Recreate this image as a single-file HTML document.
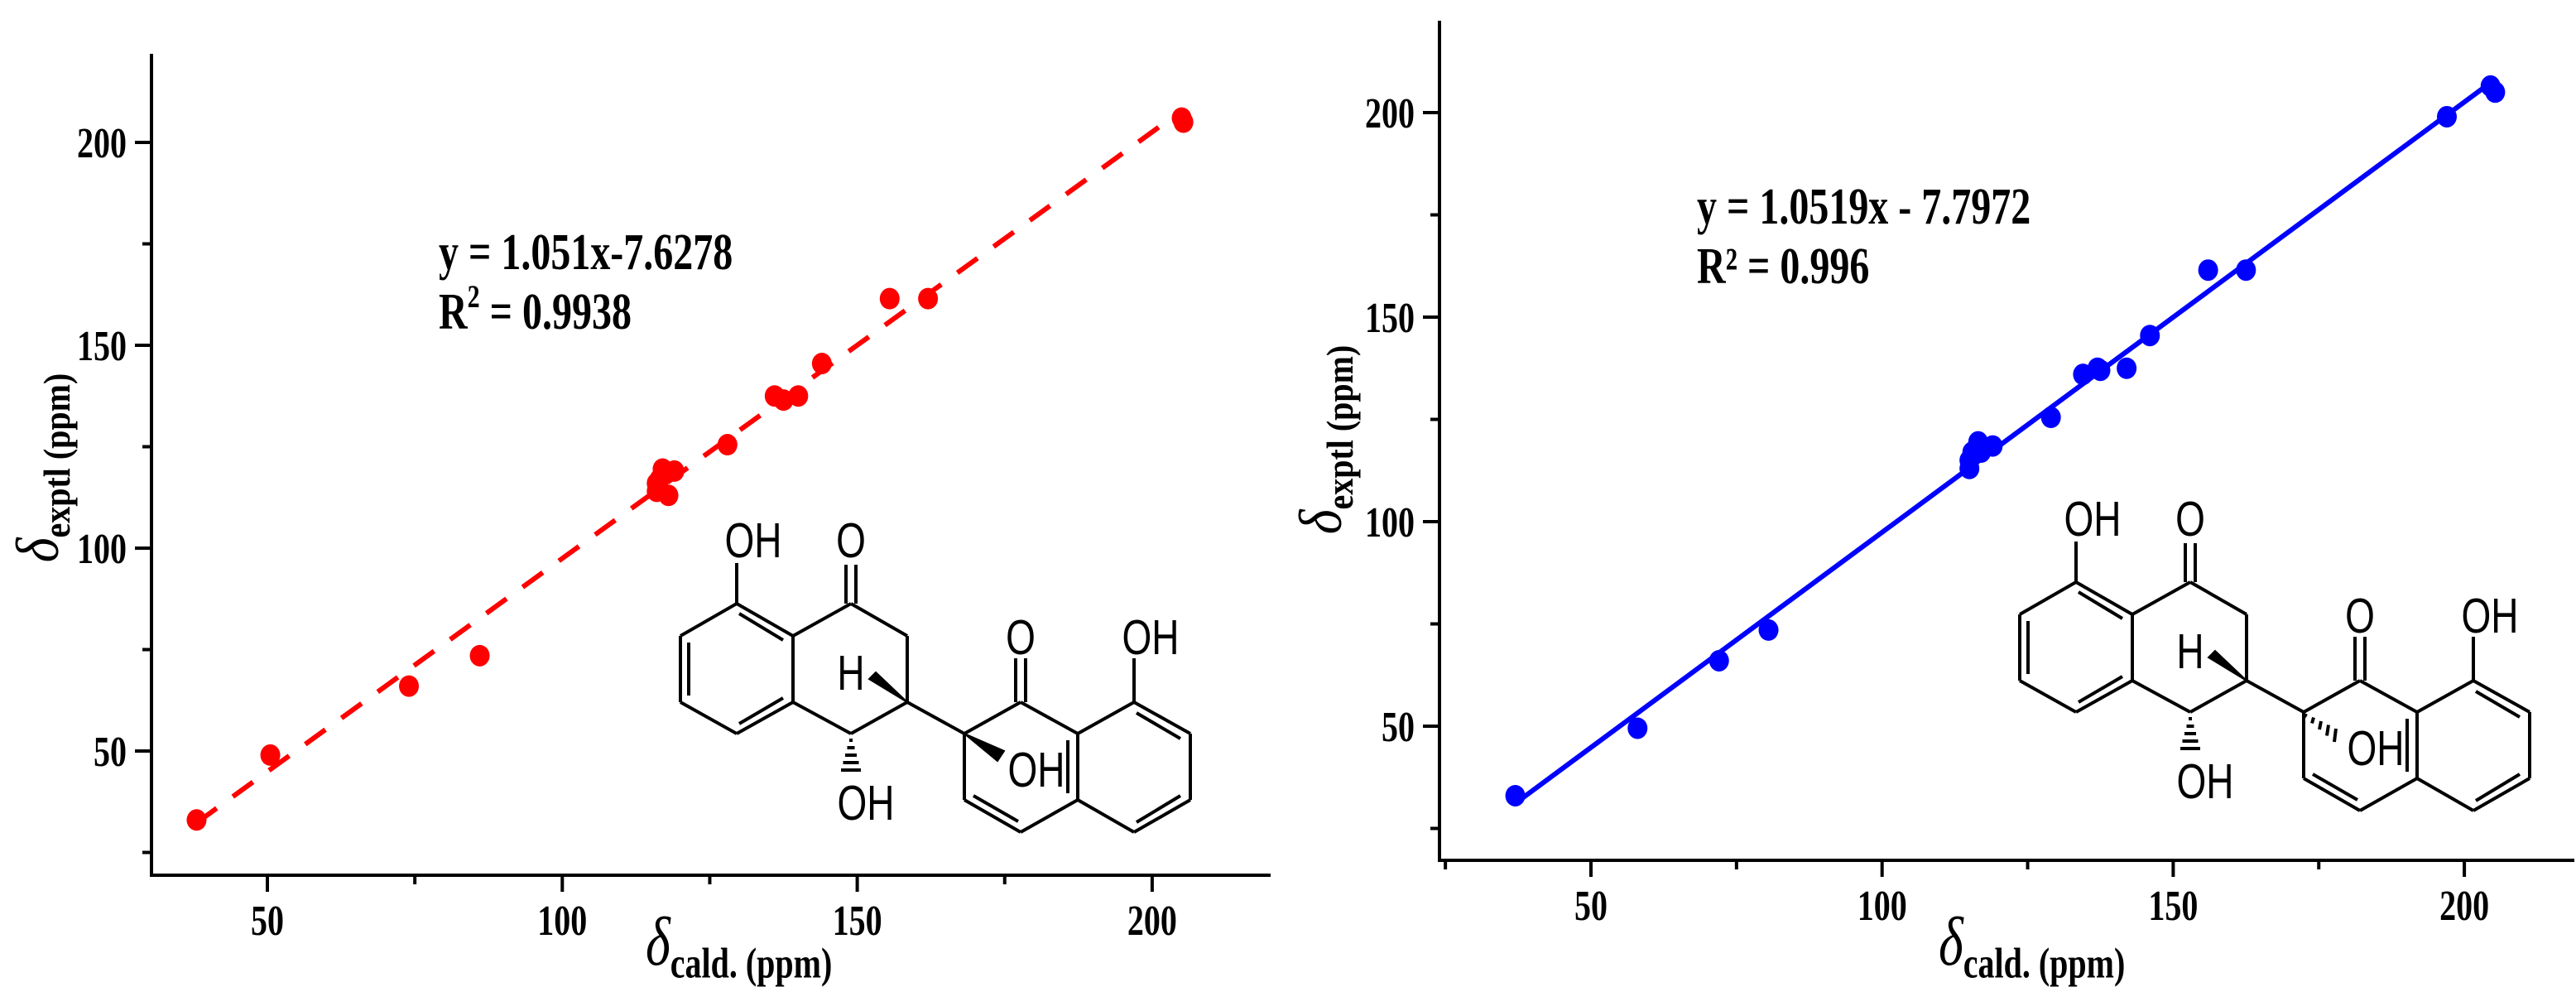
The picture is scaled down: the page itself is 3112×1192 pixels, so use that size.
<!DOCTYPE html>
<html><head><meta charset="utf-8"><style>
html,body{margin:0;padding:0;background:#fff;}
svg{display:block;}
text{font-family:"Liberation Serif",serif;}
.tick{font-weight:bold;font-size:40px;}
.atom{font-family:"Liberation Sans",sans-serif;font-size:46px;}
</style></head><body>
<svg id="fig" width="3112" height="1192" viewBox="0 0 3112 1192" xmlns="http://www.w3.org/2000/svg"></svg>
<script>
// Left chart data
const leftCalc = [38,50.5,74,86,116,116.5,117,118,119,116,128,136,137.5,140,144,155.5,162,205,205.3];
const leftExpt = [33,49,66,73.5,114,117,119.5,113,119,116,125.5,137.5,136.5,137.5,145.5,161.5,161.5,206,205];
const leftFit = [1.051,-7.6278];
// Right chart data
const rightCalc = [37,58,72,80.5,115,115,115.5,116.5,117,119,129,134.5,137,137.5,142,146,156,162.5,197,204.5,205.3];
const rightExpt = [33,49.5,66,73.5,113,115,117,119.5,117,118.5,125.5,136,137.5,137,137.5,145.5,161.5,161.5,199,206.5,205];
const rightFit = [1.0519,-7.7972];
const xTicks = [50,100,150,200];
const xMinor = [25,75,125,175];
const yTicks = [50,100,150,200];
const yMinor = [25,75,125,175];

const NS="http://www.w3.org/2000/svg";
const svg=document.getElementById('fig');
const SY=1.3;
function mk(tag,attrs,parent){const e=document.createElementNS(NS,tag);for(const k in attrs)e.setAttribute(k,attrs[k]);(parent||svg).appendChild(e);return e;}
function st(x,y,attrs,parent,rot){const a=Object.assign({x:0,y:0,transform:`translate(${x},${y})${rot?' rotate(-90)':''} scale(1,${SY})`},attrs);return mk('text',a,parent);}

function chart(cfg){
  const g=mk('g',{});
  
  
  const X=v=>cfg.x0px+(v-cfg.xv0)*cfg.xs;
  const Y=v=>cfg.y0px-(v-cfg.yv0)*cfg.ys;
  const ya=mk('line',{x1:cfg.left,y1:cfg.top,x2:cfg.left,y2:cfg.bottom+2,stroke:'#000','stroke-width':4},g);
  
  
  const xa=mk('line',{x1:cfg.left-2,y1:cfg.bottom,x2:cfg.right,y2:cfg.bottom,stroke:'#000','stroke-width':4},g);
  
  
  xTicks.forEach(v=>{
    const t=mk('line',{x1:X(v),y1:cfg.bottom,x2:X(v),y2:cfg.bottom+20,stroke:'#000','stroke-width':4},g);
    
    
    const l=st(X(v),cfg.bottom+72,{'text-anchor':'middle',class:'tick'},g);l.textContent=v;
    
    
  });
  xMinor.forEach(v=>{if(X(v)<cfg.left)return;
    const t=mk('line',{x1:X(v),y1:cfg.bottom,x2:X(v),y2:cfg.bottom+11,stroke:'#000','stroke-width':4},g);
    
    
  });
  yTicks.forEach(v=>{
    const t=mk('line',{x1:cfg.left-20,y1:Y(v),x2:cfg.left,y2:Y(v),stroke:'#000','stroke-width':4},g);
    
    
    const l=st(cfg.left-30,Y(v)+18,{'text-anchor':'end',class:'tick'},g);l.textContent=v;
    
    
  });
  yMinor.forEach(v=>{
    const t=mk('line',{x1:cfg.left-11,y1:Y(v),x2:cfg.left,y2:Y(v),stroke:'#000','stroke-width':4},g);
    
    
  });
  const xs=cfg.calc, lo=Math.min(...xs), hi=Math.max(...xs);
  const f=v=>cfg.fit[0]*v+cfg.fit[1];
  const fl=mk('line',{x1:X(lo),y1:Y(f(lo)),x2:X(hi),y2:Y(f(hi)),stroke:cfg.color,'stroke-width':6},g);
  if(cfg.dash)fl.setAttribute('stroke-dasharray','30 24');
  
  
  cfg.calc.forEach((v,i)=>{
    const c=mk('ellipse',{cx:X(v),cy:Y(cfg.expt[i]),rx:12,ry:13,fill:cfg.color},g);
    
    
  });
  const e1=st(cfg.eqx,cfg.eqy,{'font-weight':'bold','font-size':48},g);e1.textContent=cfg.eq1;
  
  
  const e2=st(cfg.eqx,cfg.eqy+72,{'font-weight':'bold','font-size':48},g);e2.innerHTML=cfg.eq2;
  
  
  const xt=st(cfg.xtx,1165,{'font-weight':'bold'},g);
  xt.innerHTML='<tspan font-style="italic" font-size="64" font-weight="normal">δ</tspan><tspan font-size="40" dy="12">cald.  (ppm)</tspan>';
  
  
  const yt=st(cfg.ytx,cfg.yty,{'font-weight':'bold','text-anchor':'middle'},g,true);
  yt.setAttribute('transform',`translate(${cfg.ytx},${cfg.yty}) rotate(-90) scale(1,1.15)`);
  yt.innerHTML='<tspan font-style="italic" font-size="64" font-weight="normal">δ</tspan><tspan font-size="40" dy="12">exptl  (ppm)</tspan>';
  
  
}

chart({name:'left-chart',left:183,right:1535,top:65,bottom:1057,x0px:323,xv0:50,xs:7.126,y0px:907,yv0:50,ys:4.9,
  calc:leftCalc,expt:leftExpt,fit:leftFit,color:'#ff0000',dash:true,eqx:530,eqy:325,
  eq1:'y = 1.051x-7.6278',eq2:'R<tspan font-size="30" dy="-20">2</tspan><tspan dy="20"> = 0.9938</tspan>',xtx:780,ytx:70,yty:565});
chart({name:'right-chart',left:1739,right:3110,top:25,bottom:1039,x0px:1922,xv0:50,xs:7.034,y0px:877,yv0:50,ys:4.94,
  calc:rightCalc,expt:rightExpt,fit:rightFit,color:'#0000ff',dash:false,eqx:2050,eqy:270,
  eq1:'y = 1.0519x - 7.7972',eq2:'R² = 0.996',xtx:2342,ytx:1620,yty:531});

function molecule(tx,ty,hashed,name){
  const g=mk('g',{transform:`translate(${tx},${ty})`,stroke:'#000','stroke-width':4,fill:'none'});
  
  
  const L=(a,b,c,d)=>mk('line',{x1:a,y1:b,x2:c,y2:d},g);
  const A=[[890,729],[958,768],[958,848],[890,886],[822,848],[822,768]];
  for(let i=0;i<6;i++)L(...A[i],...A[(i+1)%6]);
  L(832,776,832,840); L(893,741,946,773); L(893,874,946,843);
  L(958,768,1028,729);L(1028,729,1096,768);L(1096,768,1096,848);L(1096,848,1028,886);L(1028,886,958,848);
  L(890,729,890,680); L(1022,729,1022,682); L(1034,729,1034,682);
  for(let k=0;k<5;k++){const y=894+k*9;const w=2+k*2.5;L(1028-w,y,1028+w,y);}
  mk('polygon',{points:'1096,848 1050,820 1058,812',fill:'#000',stroke:'#000','stroke-width':2},g);
  L(1096,848,1165,886);
  const C=[[1165,886],[1233,848],[1302,886],[1302,966],[1233,1005],[1165,966]];
  for(let i=0;i<6;i++)L(...C[i],...C[(i+1)%6]);
  L(1176,961,1230,992); L(1290,894,1290,958);
  L(1227,848,1227,795); L(1239,848,1239,795);
  const D=[[1302,886],[1370,848],[1438,886],[1438,966],[1370,1005],[1302,966]];
  for(let i=0;i<6;i++)L(...D[i],...D[(i+1)%6]);
  L(1373,861,1426,892); L(1373,993,1426,961);
  L(1370,848,1370,795);
  if(hashed){for(let k=0;k<5;k++){const x=1168+k*9;const y=890+k*6;L(x,y-k*1.5-2,x-2,y+k*1.5+2);} }
  else mk('polygon',{points:'1165,886 1213,907 1205,919',fill:'#000',stroke:'#000','stroke-width':2},g);
  const T=(x,y,s)=>{const t=st(x,y,{'text-anchor':'middle',class:'atom',fill:'#000',stroke:'none'},g);t.textContent=s;
    
    };
  T(910,673,'OH');T(1028,673,'O');T(1046,990,'OH');T(1233,790,'O');T(1390,790,'OH');T(1252,950,'OH');T(1028,833,'H');
}
molecule(0,0,false,'molecule-structure-left');
molecule(1618,-26,true,'molecule-structure-right');
</script>
</body></html>
